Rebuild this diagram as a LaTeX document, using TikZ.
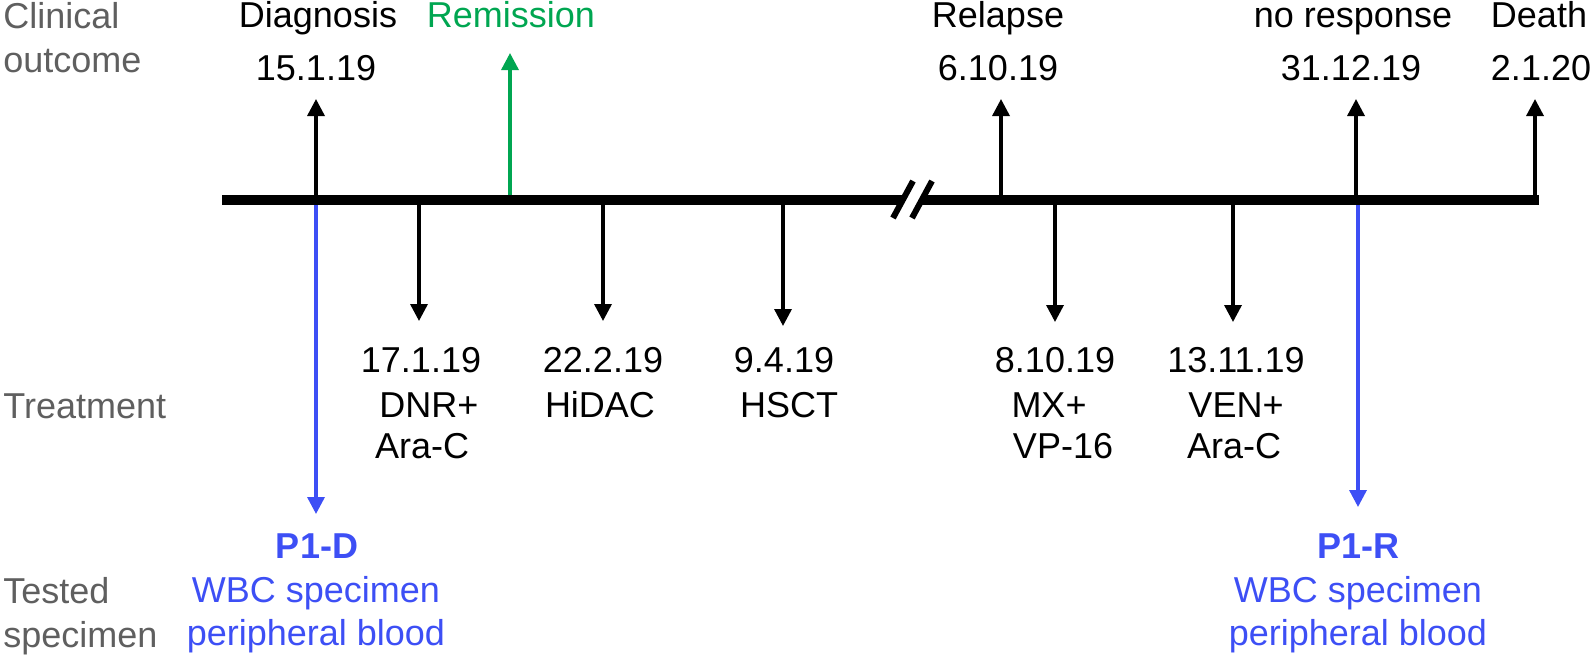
\documentclass[tikz,border=0pt]{standalone}
\usepackage{fontspec}
\setmainfont{Liberation Sans}
\usetikzlibrary{arrows.meta}
\definecolor{lblgray}{RGB}{95,95,95}
\definecolor{remgreen}{RGB}{0,166,81}
\definecolor{specblue}{RGB}{61,79,245}
\begin{document}
\begin{tikzpicture}[x=0.5pt,y=-0.5pt,
  font=\fontsize{18}{21}\selectfont,
  txt/.style={inner sep=0pt, anchor=base},
  lbl/.style={inner sep=0pt, anchor=base west, text=lblgray},
  bluetxt/.style={txt, text=specblue},
  arr/.style={line width=1.7pt, -{Triangle[length=8.5pt,width=8.5pt]}},
  bar/.style={line width=5pt},
  brk/.style={line width=3pt}]
\useasboundingbox (0,0) rectangle (1594,659);

% coordinates on the bar
\coordinate (bl) at (222,200);
\coordinate (br) at (1539,200);
\coordinate (bk1) at (903,200);
\coordinate (bk2) at (922,200);
\coordinate (u1) at (316,200);
\coordinate (u2) at (510,200);
\coordinate (u3) at (1001,200);
\coordinate (u4) at (1356,200);
\coordinate (u5) at (1535,200);
\coordinate (d1) at (419,200);
\coordinate (d2) at (603,200);
\coordinate (d3) at (783,200);
\coordinate (d4) at (1055,200);
\coordinate (d5) at (1233,200);
\coordinate (s1) at (316,200);
\coordinate (s2) at (1358,200);
% arrow tips
\coordinate (u1t) at (316,99);
\coordinate (u2t) at (510,53);
\coordinate (u3t) at (1001,99);
\coordinate (u4t) at (1356,99);
\coordinate (u5t) at (1535,99);
\coordinate (d1t) at (419,321);
\coordinate (d2t) at (603,321);
\coordinate (d3t) at (783,326);
\coordinate (d4t) at (1055,322);
\coordinate (d5t) at (1233,322);
\coordinate (s1t) at (316,514);
\coordinate (s2t) at (1358,507);

% arrows
\draw[arr] (u1) -- (u1t);
\draw[arr, remgreen] (u2) -- (u2t);
\draw[arr] (u3) -- (u3t);
\draw[arr] (u4) -- (u4t);
\draw[arr] (u5) -- (u5t);
\draw[arr] (d1) -- (d1t);
\draw[arr] (d2) -- (d2t);
\draw[arr] (d3) -- (d3t);
\draw[arr] (d4) -- (d4t);
\draw[arr] (d5) -- (d5t);
\draw[arr, specblue] (s1) -- (s1t);
\draw[arr, specblue] (s2) -- (s2t);

% timeline with break
\draw[bar] (bl) -- (bk1);
\draw[bar] (bk2) -- (br);
\coordinate (k1a) at (893,218);
\coordinate (k1b) at (913,181);
\coordinate (k2a) at (912,218);
\coordinate (k2b) at (932,181);
\draw[brk] (k1a) -- (k1b);
\draw[brk] (k2a) -- (k2b);

% row labels
\node[lbl] (cl1) at (3,28) {Clinical};
\node[lbl] (cl2) at (3,72) {outcome};
\node[lbl] (tr) at (3,418) {Treatment};
\node[lbl] (ts1) at (3,603) {Tested};
\node[lbl] (ts2) at (3,647) {specimen};

% clinical outcome
\node[txt] (diag) at (318,27) {Diagnosis};
\node[txt] (diagd) at (316,80) {15.1.19};
\node[txt, text=remgreen] (rem) at (511,27) {Remission};
\node[txt] (rel) at (998,27) {Relapse};
\node[txt] (reld) at (998,80) {6.10.19};
\node[txt] (nor) at (1353,27) {no response};
\node[txt] (nord) at (1351,80) {31.12.19};
\node[txt] (dth) at (1539,27) {Death};
\node[txt] (dthd) at (1541,80) {2.1.20};

% treatment
\node[txt] (t1a) at (421,372) {17.1.19};
\node[txt] (t1b) at (429,417) {DNR+};
\node[txt] (t1c) at (422,458) {Ara-C};
\node[txt] (t2a) at (603,372) {22.2.19};
\node[txt] (t2b) at (600,417) {HiDAC};
\node[txt] (t3a) at (784,372) {9.4.19};
\node[txt] (t3b) at (789,417) {HSCT};
\node[txt] (t4a) at (1055,372) {8.10.19};
\node[txt] (t4b) at (1049,417) {MX+};
\node[txt] (t4c) at (1063,458) {VP-16};
\node[txt] (t5a) at (1236,372) {13.11.19};
\node[txt] (t5b) at (1236,417) {VEN+};
\node[txt] (t5c) at (1234,458) {Ara-C};

% tested specimen
\node[bluetxt, font=\fontsize{18}{21}\selectfont\bfseries] (p1d) at (317,558) {P1-D};
\node[bluetxt] (p1d2) at (316,602) {WBC specimen};
\node[bluetxt] (p1d3) at (316,645) {peripheral blood};
\node[bluetxt, font=\fontsize{18}{21}\selectfont\bfseries] (p1r) at (1358,558) {P1-R};
\node[bluetxt] (p1r2) at (1358,602) {WBC specimen};
\node[bluetxt] (p1r3) at (1358,645) {peripheral blood};
\end{tikzpicture}
\end{document}
